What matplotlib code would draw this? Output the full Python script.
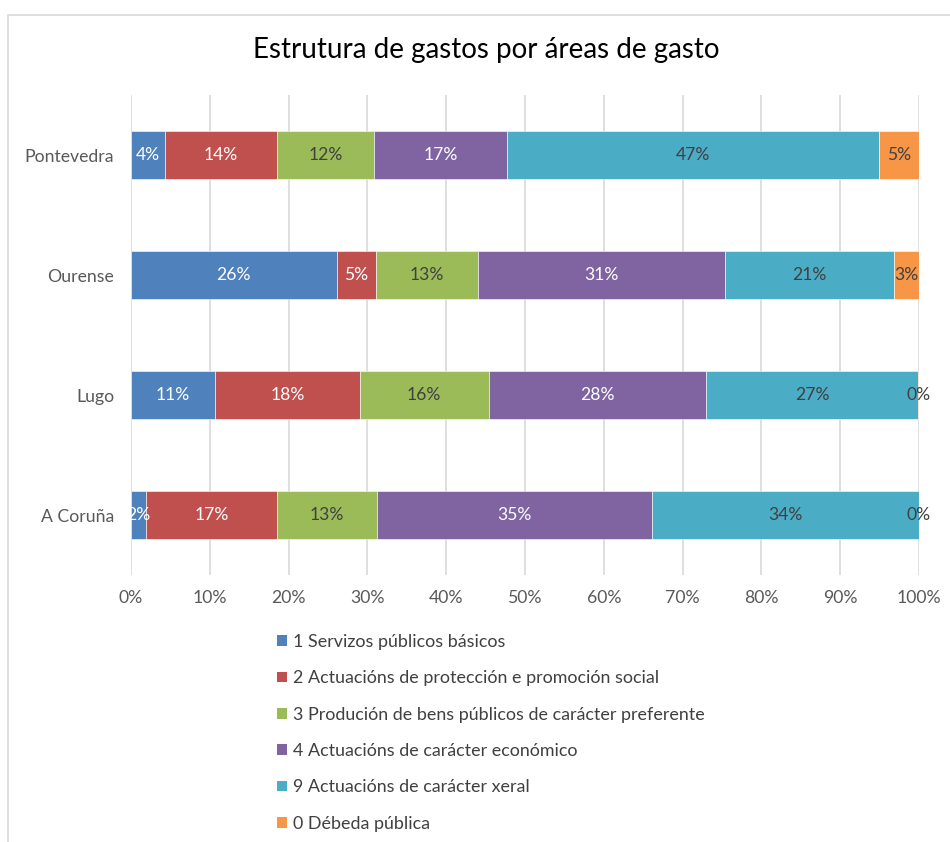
import matplotlib
matplotlib.use("Agg")
import matplotlib.pyplot as plt
from matplotlib.patches import Patch, Rectangle
import numpy as np

plt.rcParams['font.family'] = ['Lato', 'DejaVu Sans']

provinces = ["A Coruña", "Lugo", "Ourense", "Pontevedra"]
areas = [
    "1 Servizos públicos básicos",
    "2 Actuacións de protección e promoción social",
    "3 Produción de bens públicos de carácter preferente",
    "4 Actuacións de carácter económico",
    "9 Actuacións de carácter xeral",
    "0 Débeda pública",
]
# share of spending (%) per area, in province order above
servizos = [1.9, 10.7, 26.1, 4.3]
proteccion = [16.6, 18.3, 5.0, 14.2]
bens = [12.7, 16.4, 12.9, 12.4]
economico = [34.9, 27.6, 31.4, 16.8]
xeral = [33.9, 26.9, 21.4, 47.2]
debeda = [0.0, 0.1, 3.2, 5.1]

series = [servizos, proteccion, bens, economico, xeral, debeda]
colors = ["#4F81BD", "#C0504D", "#9BBB59", "#8064A2", "#4BACC6", "#F79646"]
label_colors = ["white", "white", "#404040", "white", "#404040", "#404040"]
tick_labels = [f"{v}%" for v in range(0, 101, 10)]

W, H = 950, 842
fig = plt.figure(figsize=(W / 100, H / 100), dpi=100)
fig.patch.set_facecolor("white")

ax = fig.add_axes([131 / W, 1 - 575 / H, (919 - 131) / W, (575 - 95) / H])
y = np.arange(len(provinces))
left = np.zeros(len(provinces))
for vals, col, lc in zip(series, colors, label_colors):
    vals = np.array(vals)
    ax.barh(y, vals, left=left, height=0.4, color=col, edgecolor="white",
            linewidth=0.4, zorder=3)
    for yi, (l, v) in enumerate(zip(left, vals)):
        ax.text(l + v / 2, yi, f"{v:.0f}%", ha="center", va="center",
                color=lc, fontsize=12.6, zorder=4)
    left = left + vals

ax.set_xlim(0, 100)
ax.set_ylim(-0.5, len(provinces) - 0.5)
ax.set_xticks(np.arange(0, 101, 10))
ax.set_xticklabels(tick_labels)
ax.set_yticks(y)
ax.set_yticklabels(provinces)
ax.tick_params(axis="both", length=0, labelsize=12.7, colors="#595959")
ax.tick_params(axis="x", pad=11)
ax.tick_params(axis="y", pad=12)
ax.grid(axis="x", color="#d9d9d9", linewidth=1.2, zorder=0)
for s in ax.spines.values():
    s.set_visible(False)

fig.text(486 / W, 1 - 50 / H, "Estrutura de gastos por áreas de gasto",
         ha="center", va="center", fontsize=20, color="#000000")

handles = [Patch(facecolor=c, edgecolor="none") for c in colors]
fig.legend(handles, areas, loc="upper left",
           bbox_to_anchor=(268 / W, 1 - 625 / H), frameon=False,
           fontsize=12.9, labelcolor="#404040", handlelength=0.55,
           handleheight=0.55, handletextpad=0.32, labelspacing=1.135,
           borderpad=0)

fig.patches.append(Rectangle((7.5 / W, -0.05), 1.2, (H - 14.5) / H + 0.05,
                             transform=fig.transFigure, fill=False,
                             edgecolor="#d9d9d9", linewidth=1.2))

fig.savefig("out.png", dpi=100, facecolor="white")
